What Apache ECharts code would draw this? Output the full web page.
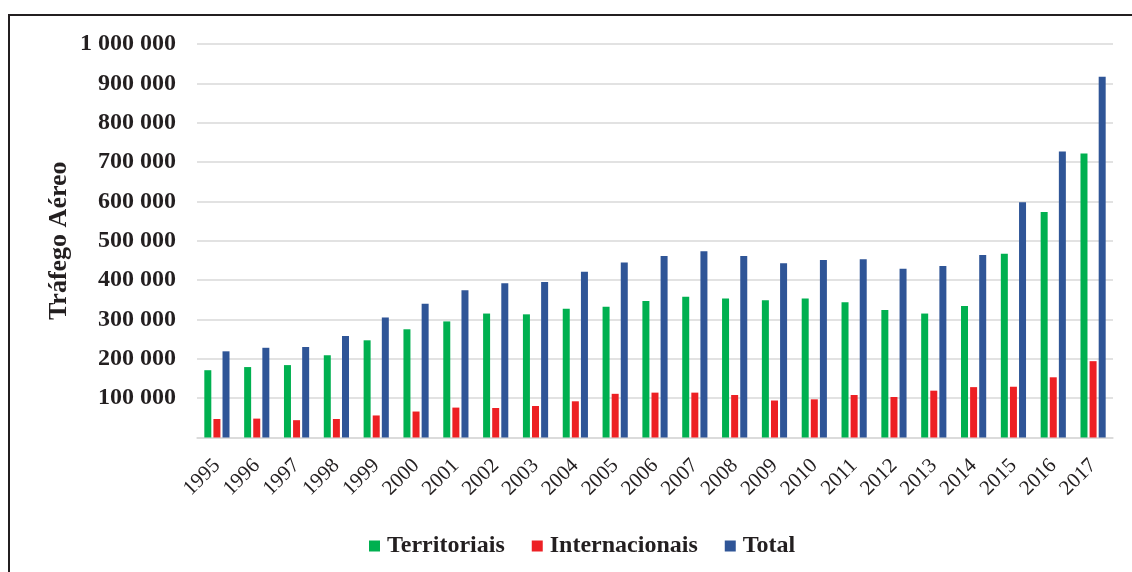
<!DOCTYPE html>
<html>
<head>
<meta charset="utf-8">
<script src="https://cdn.jsdelivr.net/npm/echarts@6/dist/echarts.min.js"></script>
<style>
html,body{margin:0;padding:0;background:#fff;}
#chart{width:1132px;height:572px;}
</style>
</head>
<body>
<div id="chart"></div>
<script>
const years = ['1995','1996','1997','1998','1999','2000','2001','2002','2003','2004','2005','2006','2007','2008','2009','2010','2011','2012','2013','2014','2015','2016','2017'];
const territoriais = [171000,179000,184000,209000,247000,275000,295000,315000,313000,327000,332000,347000,358000,353000,349000,353000,344000,324000,315000,334000,467000,573000,722000];
const internacionais = [47000,48000,44000,47000,56000,66000,76000,75000,80000,92000,111000,114000,114000,108000,94000,97000,108000,103000,119000,128000,129000,153000,194000];
const total = [219000,228000,230000,258000,305000,340000,374000,392000,395000,421000,445000,461000,473000,461000,443000,451000,453000,429000,436000,464000,598000,727000,917000];
const seriesNames = ['Territoriais','Internacionais','Total'];
const colors = ['#00B050','#ED2024','#2F5597'];

const serif = "'Liberation Serif','Times New Roman',serif";
const textColor = '#231F20';

function fmt(v){
  if (v === 0) return '';
  return String(v).replace(/\B(?=(\d{3})+(?!\d))/g, ' ');
}

const chart = echarts.init(document.getElementById('chart'));
chart.setOption({
  animation: false,
  backgroundColor: '#fff',
  color: colors,
  grid: {left: 197, right: 19, top: 44, bottom: 134.5, containLabel: false},
  legend: {
    left: 364, top: 529,
    icon: 'rect', itemWidth: 11, itemHeight: 11, itemGap: 27,
    textStyle: {fontFamily: serif, fontWeight: 'bold', fontSize: 24, color: textColor, padding: [0, 0, 0, 2]},
    data: seriesNames
  },
  xAxis: {
    type: 'category',
    data: years,
    axisLine: {lineStyle: {color: '#D9D9D9', width: 1.5}},
    axisTick: {show: false},
    axisLabel: {interval: 0, rotate: 45, margin: 25, fontFamily: serif, fontSize: 21, color: textColor}
  },
  yAxis: {
    type: 'value',
    min: 0, max: 1000000, interval: 100000,
    name: 'Tráfego Aéreo',
    nameLocation: 'middle',
    nameRotate: 90,
    nameGap: 125,
    nameMoveOverlap: false,
    nameTextStyle: {fontFamily: serif, fontWeight: 'bold', fontSize: 26, color: textColor},
    axisLine: {show: false},
    axisTick: {show: false},
    splitLine: {lineStyle: {color: '#D9D9D9', width: 1.5}},
    axisLabel: {margin: 21, formatter: fmt, fontFamily: serif, fontWeight: 'bold', fontSize: 24, color: textColor}
  },
  graphic: [
    {type: 'line', shape: {x1: 9, y1: 15, x2: 9, y2: 572}, style: {stroke: '#231F20', lineWidth: 2}},
    {type: 'line', shape: {x1: 8, y1: 15, x2: 1132, y2: 15}, style: {stroke: '#231F20', lineWidth: 2}}
  ],
  series: [
    {name: seriesNames[0], type: 'bar', data: territoriais, barWidth: 7, barGap: '30%'},
    {name: seriesNames[1], type: 'bar', data: internacionais, barWidth: 7, barGap: '30%'},
    {name: seriesNames[2], type: 'bar', data: total, barWidth: 7, barGap: '30%'}
  ]
});
</script>
</body>
</html>
